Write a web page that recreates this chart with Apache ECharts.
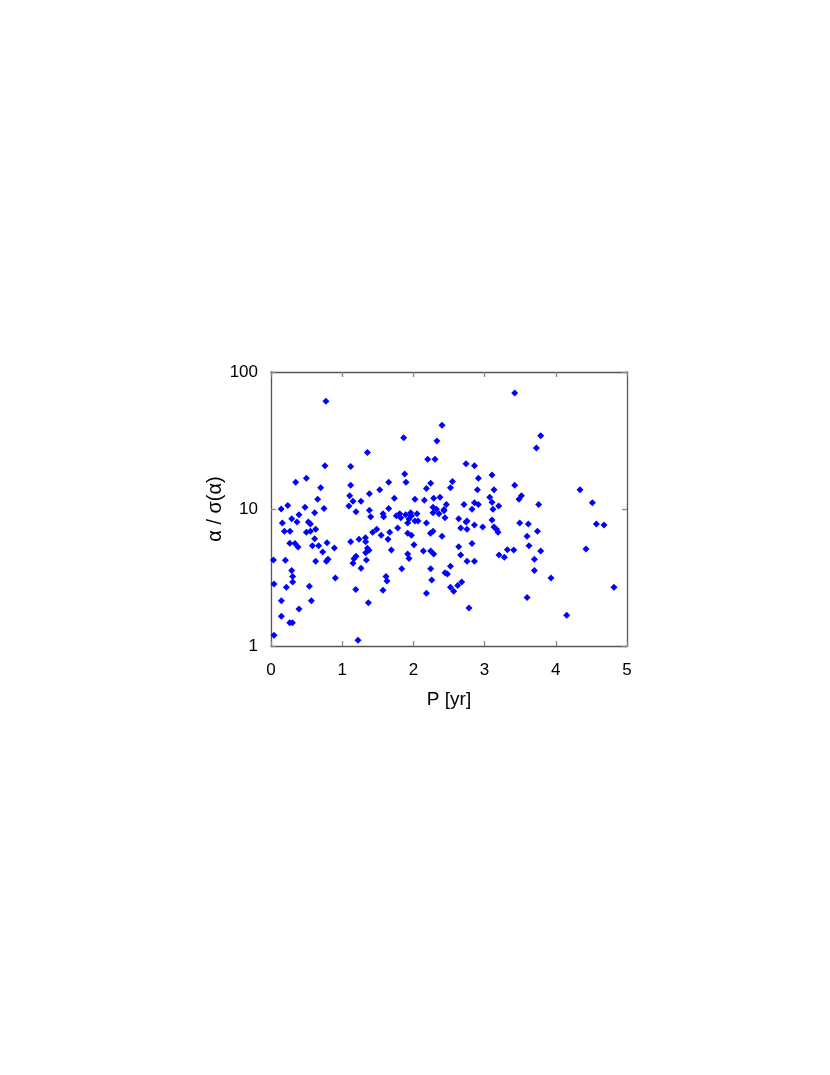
<!DOCTYPE html>
<html>
<head>
<meta charset="utf-8">
<script src="https://cdn.jsdelivr.net/npm/echarts@6/dist/echarts.min.js"></script>
<style>
html,body{margin:0;padding:0;background:#fff;}
#c{width:830px;height:1075px;}
</style>
</head>
<body>
<div id="c"></div>
<script>
// Period P [yr]
const periodYr = [
0.772,1.354,0.758,1.119,0.347,0.497,0.698,1.119,1.653,0.656,1.105,1.382,1.527,1.152,1.264,0.235,0.143,0.478,0.744,1.094,1.382,1.653,
1.194,1.400,1.573,1.583,0.160,0.291,0.393,0.365,0.614,0.525,0.553,0.628,0.188,0.267,0.497,0.553,0.614,0.263,0.337,0.379,0.581,0.670,0.787,0.726,0.890,1.119,1.236,1.326,1.330,1.428,1.485,1.548,1.643,1.667,1.354,1.376,1.330,1.194,1.166,1.152,1.340,1.264,0.034,0.202,0.628,0.778,0.801,0.291,0.305,0.305,0.904,0.042,0.216,0.539,1.190,1.615,1.629,1.573,0.146,0.567,1.368,0.393,0.146,0.263,0.301,0.042,1.222,
2.402,1.864,2.331,2.201,2.303,2.739,2.857,3.104,1.878,1.896,2.243,2.183,2.548,2.520,2.913,2.899,3.132,1.733,2.022,2.154,2.285,2.374,2.463,2.711,2.857,2.913,3.072,3.104,3.198,2.275,2.323,2.430,2.823,3.118,
2.275,2.430,2.360,2.444,1.761,1.808,1.822,1.892,1.962,1.972,1.938,1.920,2.022,2.065,2.051,2.183,2.636,2.739,2.753,2.857,2.973,3.104,3.132,3.166,3.188,2.664,2.753,1.779,1.920,1.972,2.239,2.275,2.402,2.008,1.691,2.140,2.243,2.285,1.920,1.938,2.636,2.823,2.664,2.753,2.857,3.202,3.278,3.320,1.836,2.243,2.520,2.444,2.478,2.257,2.678,2.622,2.520,2.566,2.183,2.781,
3.423,3.788,3.728,3.423,4.340,3.517,3.483,3.760,4.514,
3.493,3.615,3.742,3.596,4.570,4.677,3.624,3.409,3.788,3.699,3.699,4.424,3.933,4.817,3.596,4.153
];
// alpha / sigma(alpha)
const snr = [
61.1,25.9,20.7,20.4,15.7,16.8,14.3,14.9,15.7,11.8,12.5,12.9,13.8,11.4,11.4,10.6,10.0,10.3,10.1,10.5,9.8,10.1,
9.55,8.79,9.25,8.79,7.91,8.49,9.08,8.04,9.40,8.04,7.78,7.11,6.88,6.88,6.76,6.88,6.07,5.62,5.59,5.29,5.40,5.40,5.68,4.85,5.19,5.77,6.01,6.18,5.77,6.76,7.11,6.43,6.01,6.76,5.16,4.99,4.80,4.52,4.34,4.02,4.25,3.69,4.25,4.23,4.15,4.15,4.29,3.55,3.21,2.93,3.13,2.84,2.68,2.73,2.59,3.21,2.98,2.55,2.14,2.14,2.07,1.86,1.65,1.48,1.48,1.20,1.10,
40.8,33.1,31.3,23.1,23.1,21.4,20.7,17.7,18.0,15.7,15.4,14.1,15.9,14.3,16.8,13.8,13.8,12.0,11.8,11.6,12.0,12.2,10.8,10.8,11.1,10.8,12.2,11.2,10.5,10.3,9.97,9.9,9.97,9.97,
9.40,9.72,9.25,8.63,8.93,9.25,8.63,9.08,9.40,8.93,8.45,7.91,8.17,8.17,9.25,7.91,8.49,8.04,8.17,7.64,7.39,8.32,7.39,7.11,6.76,7.26,7.11,7.26,6.65,6.43,6.65,6.88,6.33,5.48,5.02,4.94,4.94,4.70,4.70,4.36,5.31,5.59,4.61,4.15,4.15,4.61,4.44,5.05,3.67,3.67,3.82,3.43,3.36,3.03,2.93,2.77,2.68,2.51,2.43,1.89,
70.3,34.3,27.9,14.9,13.8,12.5,11.8,10.8,11.1,
7.91,7.78,6.88,6.33,7.78,7.64,5.40,5.02,4.94,4.29,3.55,5.11,3.13,2.68,2.26,1.68
];
const xTicks = [0,1,2,3,4,5];
const yTicks = [1,10,100];
const xName = 'P [yr]';
const yName = 'α / σ(α)';

const points = periodYr.map((x,i)=>[x, snr[i]]);
const font = '"Liberation Sans", Arial, sans-serif';
const lineCol = '#555555';
const tickCol = '#888888';

const chart = echarts.init(document.getElementById('c'), null, {renderer:'canvas'});
chart.setOption({
  animation:false,
  backgroundColor:'#ffffff',
  grid:{left:271, top:372, width:356, height:274, containLabel:false},
  xAxis:[
    {type:'value', min:0, max:5, interval:1, position:'bottom',
     name:xName, nameLocation:'middle', nameGap:44,
     nameTextStyle:{fontFamily:font, fontSize:19, color:'#000'},
     axisLine:{show:true, onZero:false, lineStyle:{color:lineCol, width:1.3}},
     axisTick:{show:true, inside:true, length:5, lineStyle:{color:tickCol, width:1.3}},
     axisLabel:{show:true, margin:16, fontFamily:font, fontSize:17, color:'#000'},
     splitLine:{show:false}},
    {type:'value', min:0, max:5, interval:1, position:'top',
     axisLine:{show:true, onZero:false, lineStyle:{color:lineCol, width:1.3}},
     axisTick:{show:true, inside:true, length:5, lineStyle:{color:tickCol, width:1.3}},
     axisLabel:{show:false}, splitLine:{show:false}}
  ],
  yAxis:[
    {type:'log', logBase:10, min:1, max:100, position:'left',
     name:yName, nameLocation:'middle', nameGap:44, nameRotate:90,
     nameTextStyle:{fontFamily:font, fontSize:20, color:'#000'},
     axisLine:{show:true, onZero:false, lineStyle:{color:lineCol, width:1.3}},
     axisTick:{show:true, inside:true, length:5, lineStyle:{color:tickCol, width:1.3}},
     minorTick:{show:false},
     axisLabel:{show:true, margin:13, fontFamily:font, fontSize:17, color:'#000',
       formatter:(v)=> yTicks.includes(Math.round(v)) ? String(Math.round(v)) : ''},
     splitLine:{show:false}},
    {type:'log', logBase:10, min:1, max:100, position:'right',
     axisLine:{show:true, onZero:false, lineStyle:{color:lineCol, width:1.3}},
     axisTick:{show:true, inside:true, length:5, lineStyle:{color:tickCol, width:1.3}},
     axisLabel:{show:false}, splitLine:{show:false}}
  ],
  series:[{
    type:'scatter', xAxisIndex:0, yAxisIndex:0,
    data:points, symbol:'diamond', symbolSize:7,
    itemStyle:{color:'#0000ff', opacity:1}
  }]
});
</script>
</body>
</html>
